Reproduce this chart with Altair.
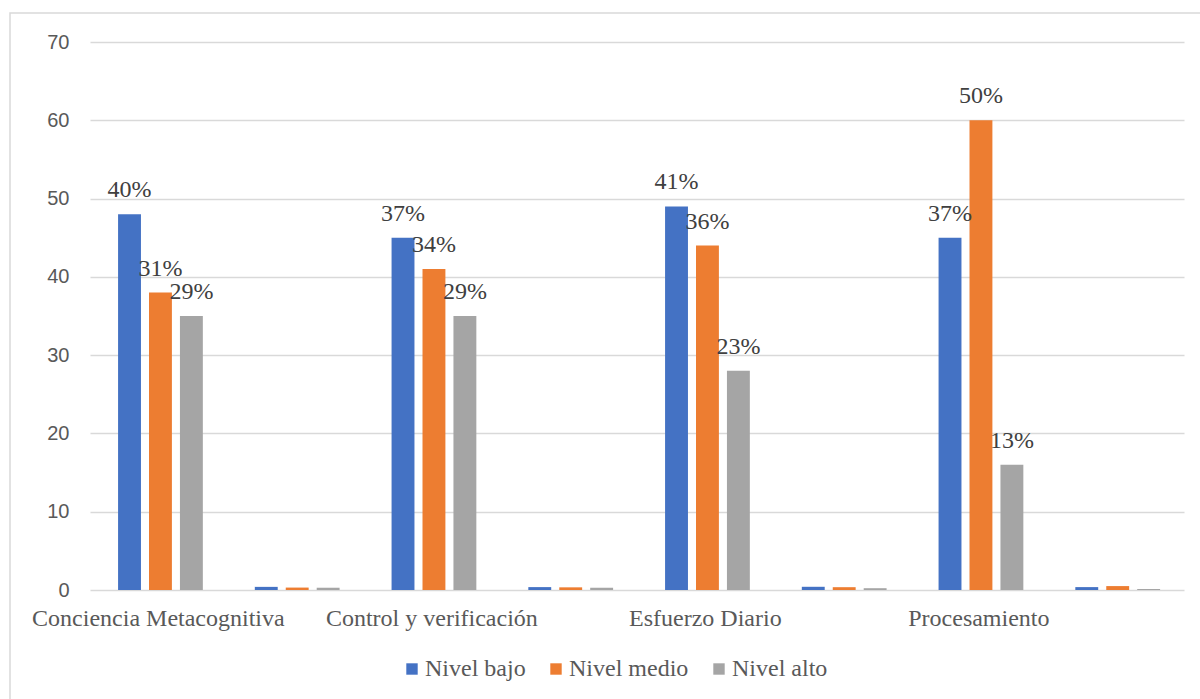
import altair as alt
import pandas as pd

categories = ["Conciencia Metacognitiva", "Control y verificación", "Esfuerzo Diario", "Procesamiento"]
series = ["Nivel bajo", "Nivel medio", "Nivel alto"]
colors = ["#4472C4", "#ED7D31", "#A5A5A5"]

nivel_bajo = [48, 45, 49, 45]
nivel_medio = [38, 41, 44, 60]
nivel_alto = [35, 35, 28, 16]

pct_bajo = [40, 37, 41, 37]
pct_medio = [31, 34, 36, 50]
pct_alto = [29, 29, 23, 13]

y_ticks = [0, 10, 20, 30, 40, 50, 60, 70]

counts = [nivel_bajo, nivel_medio, nivel_alto]
pcts = [pct_bajo, pct_medio, pct_alto]

rows = []
slots = []
for i, cat in enumerate(categories):
    blank = " " * (i + 1)
    slots += [cat, blank]
    for s, name in enumerate(series):
        rows.append({"slot": cat, "serie": name, "valor": counts[s][i],
                     "etiqueta": f"{pcts[s][i]}%"})
        rows.append({"slot": blank, "serie": name, "valor": pcts[s][i] / 100,
                     "etiqueta": ""})
df = pd.DataFrame(rows)

W, H = 1094, 548
SERIF = "Liberation Serif"

x_enc = alt.X("slot:N", sort=slots,
              scale=alt.Scale(paddingInner=0, paddingOuter=0),
              axis=alt.Axis(title=None, labelAngle=0, ticks=False, domain=False,
                            labelFont=SERIF, labelFontSize=24, labelLimit=0,
                            labelOverlap=False,
                            labelColor="#595959", labelPadding=16, grid=False))
xoff = alt.XOffset("serie:N", sort=series,
                   scale=alt.Scale(paddingInner=0.26, paddingOuter=0.84, align=0.54))
y_enc = alt.Y("valor:Q", scale=alt.Scale(domain=[0, 70], nice=False),
              axis=alt.Axis(title=None, values=y_ticks, ticks=False, domain=False,
                            grid=True, gridColor="#d9d9d9", gridWidth=1.3,
                            labelFont="Liberation Sans", labelFontSize=20,
                            labelColor="#595959", labelPadding=21))

bars = alt.Chart(df).mark_bar().encode(
    x=x_enc, xOffset=xoff, y=y_enc,
    color=alt.Color("serie:N", sort=series,
                    scale=alt.Scale(domain=series, range=colors),
                    legend=alt.Legend(title=None, orient="none", direction="horizontal",
                                      legendX=310, legendY=615,
                                      symbolType="square", symbolSize=130,
                                      symbolStrokeWidth=0, labelFont=SERIF,
                                      labelFontSize=24, labelColor="#595959",
                                      labelOffset=1, columnPadding=18)),
)

labels = alt.Chart(df).mark_text(
    font=SERIF, fontSize=24, color="#404040",
    baseline="alphabetic", dy=-17,
).encode(x=x_enc, xOffset=xoff, y=y_enc, text="etiqueta:N")

border = alt.Chart(pd.DataFrame({"a": [0]})).mark_rect(
    fill=None, stroke="#d9d9d9", strokeWidth=1.5,
).encode(x=alt.value(-80), x2=alt.value(1120), y=alt.value(-29), y2=alt.value(670))

chart = alt.layer(border, bars, labels).properties(
    width=W, height=H,
    background="white",
    autosize=alt.AutoSizeParams(type="none"),
    padding={"left": 90, "top": 42, "right": 16, "bottom": 109},
).configure_view(stroke=None)

chart.save("out.html", embed_options={"renderer": "svg", "actions": False})
